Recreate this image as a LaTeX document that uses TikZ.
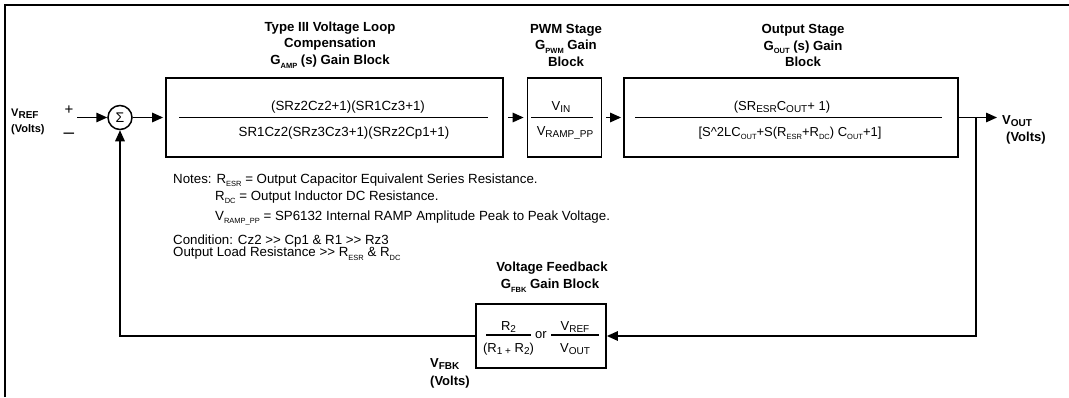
\documentclass[tikz,border=0pt]{standalone}
\usepackage{fontspec}
\setmainfont{Liberation Sans}
\usetikzlibrary{arrows.meta}
\newcommand\subA[1]{\raisebox{-0.55ex}{\fontsize{7.5}{8}\selectfont #1}}
\newcommand\subB[1]{\raisebox{-0.35ex}{\fontsize{10}{10}\selectfont #1}}
\newcommand\ggt{>\kern0pt>}
\tikzset{
  every node/.style={inner sep=0pt, font=\fontsize{13}{16}\selectfont},
  blk/.style={draw, line width=1.8pt, minimum height=79pt, inner sep=0pt},
  wire/.style={line width=1.5pt},
  arr/.style={wire, -{Triangle[length=11pt,width=9.5pt]}},
  ttl/.style={font=\fontsize{13.2}{16}\selectfont\bfseries, anchor=base},
  txt/.style={anchor=base west},
  note/.style={anchor=base west, font=\fontsize{13.3}{16}\selectfont},
  ctr/.style={anchor=base},
  big/.style={font=\fontsize{13.3}{16}\selectfont},
  lab/.style={anchor=base west, font=\fontsize{13}{16}\selectfont\bfseries},
  fr/.style={line width=1.1pt},
  frame/.style={line width=1.5pt},
}
\begin{document}
\begin{tikzpicture}[x=1pt,y=-1pt]
\useasboundingbox (0,0) rectangle (1069,397);
\draw[frame] (5,397) -- (5,5) -- (1069,5);

% blocks
\node[blk, minimum width=337pt] (amp) at (334.5,117.5) {};
\node[blk, minimum width=74pt] (pwm) at (564.5,117.5) {};
\node[blk, minimum width=334pt] (out) at (791,117.5) {};
\node[blk, minimum width=130pt, minimum height=64pt] (fbk) at (541,336) {};
\node[draw, circle, wire, minimum size=24pt, font=\fontsize{14}{14}\selectfont] (sum) at (120,117.5) {Σ};

% titles
\node[ttl] (t1a) at (330,31) {Type III Voltage Loop};
\node[ttl] (t1b) at (330,47.5) {Compensation};
\node[ttl] (t1c) at (330,64.5) {G\subA{AMP} (s) Gain Block};
\node[ttl] (t2a) at (566,33) {PWM Stage};
\node[ttl] (t2b) at (566,49.5) {G\subA{PWM} Gain};
\node[ttl] (t2c) at (566,66) {Block};
\node[ttl] (t3a) at (803,33) {Output Stage};
\node[ttl] (t3b) at (803,50) {G\subA{OUT} (s) Gain};
\node[ttl] (t3c) at (803,66.5) {Block};
\node[ttl] (t4a) at (552,271.5) {Voltage Feedback};
\node[ttl] (t4b) at (550,288.3) {G\subA{FBK} Gain Block};

% amp fraction
\node[ctr, big] (an) at (348,110) {(SRz2Cz2+1)(SR1Cz3+1)};
\node[ctr, big] (ad) at (344,136) {SR1Cz2(SRz3Cz3+1)(SRz2Cp1+1)};
\draw[fr] (179,117.7) -- (488,117.7);
% pwm fraction
\node[ctr] (pn) at (561,110.5) {V\subB{IN}};
\node[ctr] (pd) at (565,135.5) {V\subB{RAMP\_PP}};
\draw[fr] (531,117.7) -- (593,117.7);
% output fraction
\node[ctr] (on) at (782,110) {(SR\subB{ESR}C\subB{OUT}+ 1)};
\node[ctr] (od) at (790,136) {[S\textasciicircum 2LC\subA{OUT}+S(R\subA{ESR}+R\subA{DC}) C\subA{OUT}+1]};
\draw[fr] (635,117.7) -- (942,117.7);
% feedback fractions
\node[ctr] (fn1) at (508.5,330) {R\subB{2}};
\node[ctr] (fd1) at (508.5,352.5) {(R\subB{1 +} R\subB{2})};
\node (for) at (541,335) {or};
\node[ctr] (fn2) at (575,330) {V\subB{REF}};
\node[ctr] (fd2) at (575,352.5) {V\subB{OUT}};
\draw[fr] (486,335) -- (531,335);
\draw[fr] (551,335) -- (599,335);

% labels
\node[txt, font=\fontsize{11}{12}\selectfont\bfseries] (vref) at (11,116) {V\subB{REF}};
\node[txt, font=\fontsize{11}{12}\selectfont\bfseries] (vrefv) at (11,132.5) {(Volts)};
\node[ctr, font=\fontsize{15}{15}\selectfont] (plus) at (69,114) {+};
\node[ctr, font=\fontsize{19}{19}\selectfont] (minus) at (69,138) {–};
\node[lab] (vout) at (1002,124.5) {V\subB{OUT}};
\node[lab] (voutv) at (1006,141.5) {(Volts)};
\node[lab] (vfbk) at (430,367.5) {V\subB{FBK}};
\node[lab] (vfbkv) at (430,385) {(Volts)};

% notes
\node[note] (n1) at (173,183) {Notes: R\subA{ESR} = Output Capacitor Equivalent Series Resistance.};
\node[note] (n2) at (215,200) {R\subA{DC} = Output Inductor DC Resistance.};
\node[note] (n3) at (215,220) {V\subA{RAMP\_PP} = SP6132 Internal RAMP Amplitude Peak to Peak Voltage.};
\node[note] (n4) at (173,244) {Condition: Cz2 \ggt{} Cp1 \& R1 \ggt{} Rz3};
\node[note] (n5) at (173,256.5) {Output Load Resistance \ggt{} R\subA{ESR} \& R\subA{DC}};

% connectors
\coordinate (vin) at (77,117.5);
\coordinate (vo) at (997,117.5);
\coordinate (br) at (976,117.5);
\draw[arr] (vin) -- (sum.west);
\draw[arr, shorten >=2pt] (sum.east) -- (amp.west);
\draw[arr, shorten <=4pt, shorten >=3pt] (amp.east) -- (pwm.west);
\draw[arr, shorten <=4pt, shorten >=2pt] (pwm.east) -- (out.west);
\draw[arr] (out.east) -- (vo);
\draw[arr] (br) |- (fbk.east);
\draw[arr] (fbk.west) -| (sum.south);
\end{tikzpicture}
\end{document}
